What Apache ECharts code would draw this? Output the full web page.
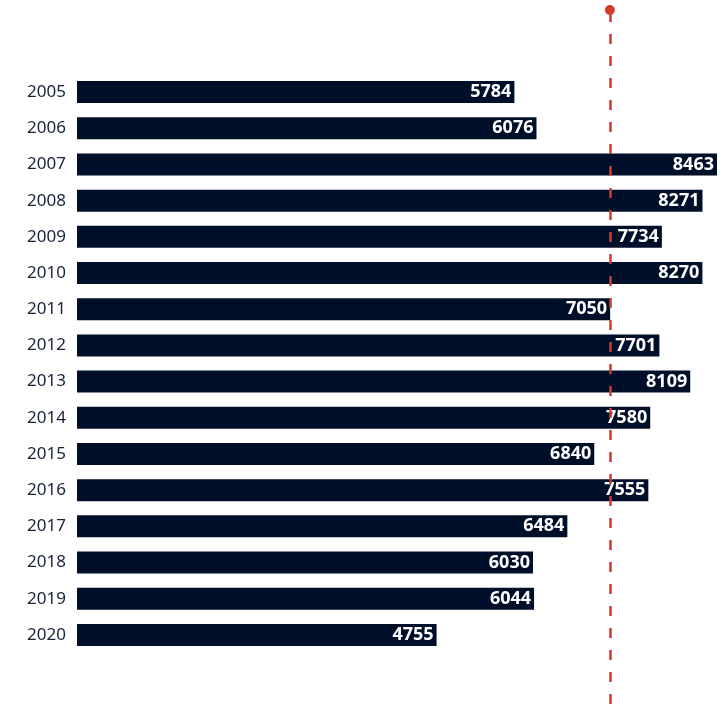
<!DOCTYPE html>
<html>
<head>
<meta charset="utf-8">
<title>Bars by year</title>
<script src="https://cdn.jsdelivr.net/npm/echarts@6/dist/echarts.min.js"></script>
<style>
  html, body { margin: 0; padding: 0; background: #fff; }
  #chart { width: 720px; height: 704px; }
</style>
</head>
<body>
<div id="chart"></div>
<script>
// years top to bottom
const years = ['2005', '2006', '2007', '2008', '2009', '2010', '2011', '2012',
  '2013', '2014', '2015', '2016', '2017', '2018', '2019', '2020'];
const values = [5784, 6076, 8463, 8271, 7734, 8270, 7050, 7701,
  8109, 7580, 6840, 7555, 6484, 6030, 6044, 4755];

const axisMax = 8463;
const barColor = '#000f29';
const lineColor = '#d63a2b';
const font = '"Noto Sans", sans-serif';

// the dashed line marks the average of all years
const avgValue = values.reduce((a, b) => a + b, 0) / values.length;

const myChart = echarts.init(document.getElementById('chart'));
const option = {
  animation: false,
  grid: [
    {left: 77, right: 3, top: 74, height: 579},
    {left: 77, right: 3, top: 10, bottom: 0}
  ],
  xAxis: [
    {gridIndex: 0, type: 'value', min: 0, max: axisMax, show: false},
    {gridIndex: 1, type: 'value', min: 0, max: axisMax, show: false}
  ],
  yAxis: [
    {
      gridIndex: 0,
      type: 'category',
      data: years,
      inverse: true,
      axisLine: {show: false},
      axisTick: {show: false},
      axisLabel: {
        margin: 11,
        color: '#1a2238',
        fontFamily: font,
        fontSize: 17
      }
    },
    {gridIndex: 1, type: 'value', min: 0, max: 1, show: false}
  ],
  series: [
    {
      type: 'bar',
      xAxisIndex: 0,
      yAxisIndex: 0,
      data: values,
      barWidth: 22,
      itemStyle: {color: barColor},
      z: 2
    },
    {
      type: 'scatter',
      xAxisIndex: 1,
      yAxisIndex: 1,
      data: [],
      z: 3,
      markLine: {
        silent: true,
        symbol: ['none', 'circle'],
        symbolSize: 10,
        label: {show: false},
        lineStyle: {color: lineColor, width: 2.5, type: [10, 12]},
        itemStyle: {color: lineColor},
        data: [{xAxis: avgValue}]
      }
    },
    {
      // labels drawn above the dashed line
      type: 'bar',
      xAxisIndex: 0,
      yAxisIndex: 0,
      data: values,
      barWidth: 22,
      barGap: '-100%',
      itemStyle: {color: 'rgba(0,0,0,0)'},
      z: 4,
      label: {
        show: true,
        position: 'insideRight',
        distance: 3,
        color: '#fff',
        fontFamily: font,
        fontWeight: 'bold',
        fontSize: 18
      }
    }
  ]
};
myChart.setOption(option);
</script>
</body>
</html>
